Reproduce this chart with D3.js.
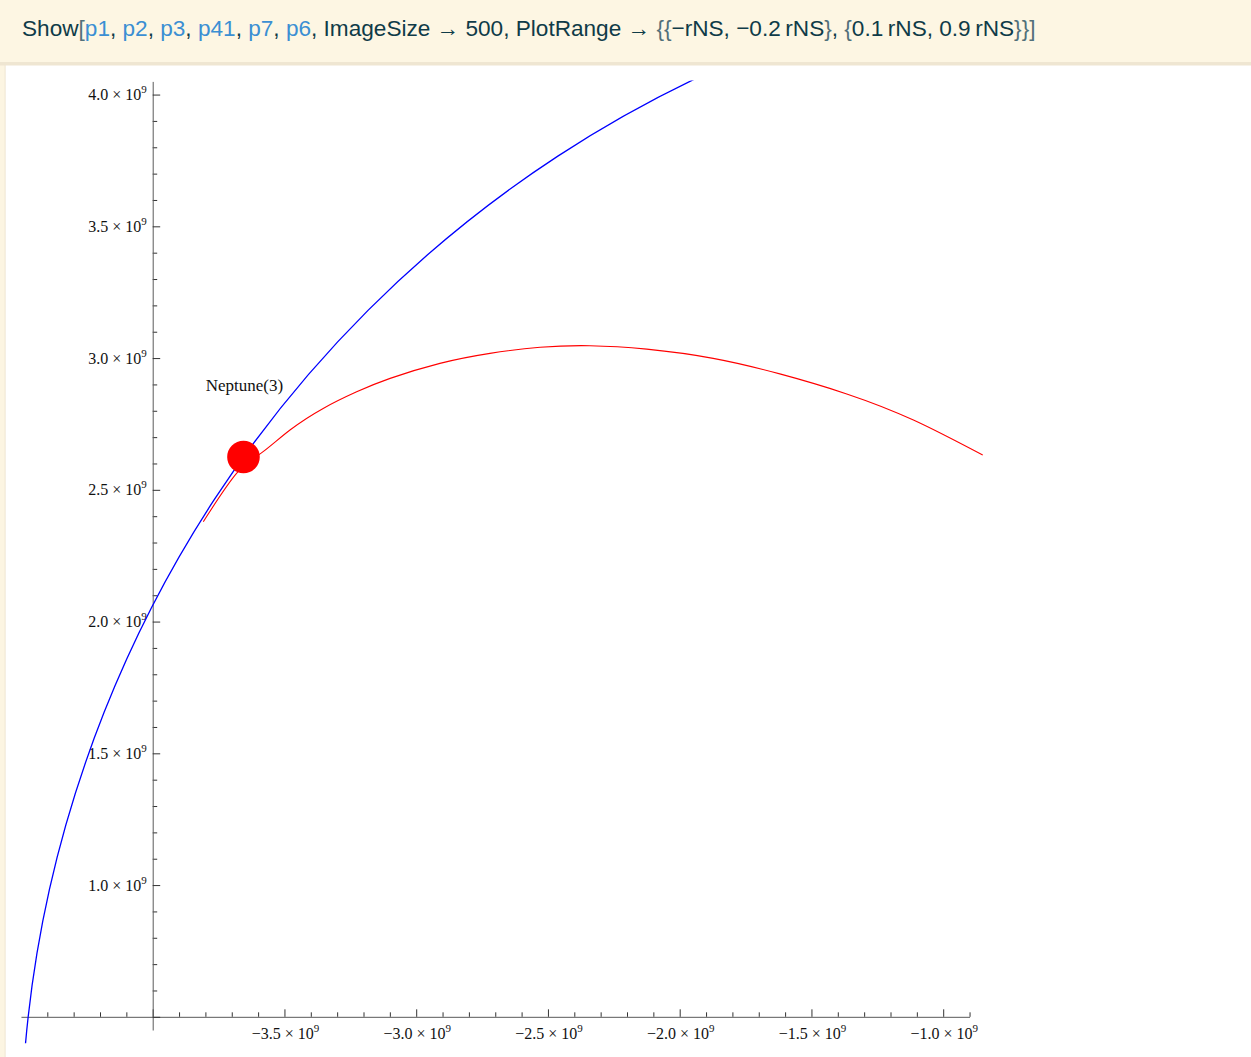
<!DOCTYPE html>
<html>
<head>
<meta charset="utf-8">
<script src="https://cdn.jsdelivr.net/npm/d3@7"></script>
<style>
  html, body { margin: 0; padding: 0; background: #ffffff; }
  svg { display: block; }
</style>
</head>
<body>
<script>
// ---- Plot range: {{-rNS, -0.2 rNS}, {0.1 rNS, 0.9 rNS}} (km) ----
const rNS = 4.5e9;
const xRange = [-rNS, -0.2 * rNS];
const yRange = [0.1 * rNS, 0.9 * rNS];
const axesOrigin = [-4.0e9, 0.5e9];

// Neptune's orbit (circle about the Sun)
const neptuneOrbitRadius = 4.5e9;

// Transfer trajectory samples (x, y in km)
const transferX = [-3.808e9, -3.681e9, -3.586e9, -3.479e9, -3.353e9, -3.226e9, -3.099e9, -2.910e9,
                   -2.720e9, -2.530e9, -2.341e9, -2.125e9, -1.873e9, -1.620e9, -1.366e9, -1.113e9, -0.850e9];
const transferY = [2.379e9, 2.563e9, 2.641e9, 2.727e9, 2.809e9, 2.872e9, 2.923e9, 2.980e9,
                   3.018e9, 3.041e9, 3.047e9, 3.034e9, 2.999e9, 2.940e9, 2.864e9, 2.765e9, 2.632e9];

// Neptune at encounter and its label
const neptunePos = [-3.6555e9, 2.6246e9];
const neptuneLabel = "Neptune(3)";
const neptuneLabelPos = [-3.652e9, 2.898e9];

// Ticks
const xMajorTicks = [-4.0e9, -3.5e9, -3.0e9, -2.5e9, -2.0e9, -1.5e9, -1.0e9];
const xTickLabels = ["", "\u22123.5", "\u22123.0", "\u22122.5", "\u22122.0", "\u22121.5", "\u22121.0"];
const xMinorTicks = [-4.4e9, -4.3e9, -4.2e9, -4.1e9, -3.9e9, -3.8e9, -3.7e9, -3.6e9, -3.4e9, -3.3e9, -3.2e9, -3.1e9,
                     -2.9e9, -2.8e9, -2.7e9, -2.6e9, -2.4e9, -2.3e9, -2.2e9, -2.1e9, -1.9e9, -1.8e9, -1.7e9, -1.6e9,
                     -1.4e9, -1.3e9, -1.2e9, -1.1e9, -0.9e9];
const yMajorTicks = [0.5e9, 1.0e9, 1.5e9, 2.0e9, 2.5e9, 3.0e9, 3.5e9, 4.0e9];
const yTickLabels = ["", "1.0", "1.5", "2.0", "2.5", "3.0", "3.5", "4.0"];
const yMinorTicks = [0.6e9, 0.7e9, 0.8e9, 0.9e9, 1.1e9, 1.2e9, 1.3e9, 1.4e9, 1.6e9, 1.7e9, 1.8e9, 1.9e9,
                     2.1e9, 2.2e9, 2.3e9, 2.4e9, 2.6e9, 2.7e9, 2.8e9, 2.9e9, 3.1e9, 3.2e9, 3.3e9, 3.4e9,
                     3.6e9, 3.7e9, 3.8e9, 3.9e9];
const tickExponent = "9";

// Input line of the notebook cell
const inputSegments = [
  ["Show", "txt"], ["[", "br"], ["p1", "sym"], [", ", "txt"], ["p2", "sym"], [", ", "txt"], ["p3", "sym"],
  [", ", "txt"], ["p41", "sym"], [", ", "txt"], ["p7", "sym"], [", ", "txt"], ["p6", "sym"],
  [", ImageSize \u2192 500, PlotRange \u2192 ", "txt"], ["{{", "br"], ["\u2212rNS, \u22120.2\u2009rNS", "txt"],
  ["}", "br"], [", ", "txt"], ["{", "br"], ["0.1\u2009rNS, 0.9\u2009rNS", "txt"], ["}}", "br"], ["]", "br"]
];

const W = 1251, H = 1057;
const svg = d3.select("body").append("svg").attr("width", W).attr("height", H);

// ---- notebook cell frame ----
svg.append("rect").attr("x", 0).attr("y", 0).attr("width", 5).attr("height", H).attr("fill", "#fcf5e2");
svg.append("rect").attr("x", 4.5).attr("y", 0).attr("width", 1.2).attr("height", H).attr("fill", "#f1e9d6");
svg.append("rect").attr("x", 0).attr("y", 0).attr("width", W).attr("height", 62).attr("fill", "#fdf6e3");
svg.append("rect").attr("x", 0).attr("y", 62).attr("width", W).attr("height", 3.5).attr("fill", "#efe6d2");

const colors = { txt: "#0f3b48", sym: "#3b8fd3", br: "#52707a" };
const inputLine = svg.append("text")
  .attr("x", 22).attr("y", 36)
  .attr("font-family", "'Liberation Sans', Arial, sans-serif")
  .attr("font-size", 22.6);
inputLine.selectAll("tspan").data(inputSegments).join("tspan")
  .attr("fill", d => colors[d[1]])
  .text(d => d[0]);

// ---- scales ----
const sx = d3.scaleLinear().domain(xRange).range([20.95, 969.55]);
const sy = d3.scaleLinear().domain(yRange).range([1030, 81.4]);
const x0 = sx(axesOrigin[0]), y0 = sy(axesOrigin[1]);

const defs = svg.append("defs");
defs.append("clipPath").attr("id", "plotClip").append("rect")
  .attr("x", sx(xRange[0]) - 13).attr("y", sy(yRange[1]) - 0.8)
  .attr("width", sx(xRange[1]) - sx(xRange[0]) + 30)
  .attr("height", sy(yRange[0]) - sy(yRange[1]) + 14);

// ---- axes ----
const axisFont = "'Liberation Serif', 'Times New Roman', serif";

const gx = svg.append("g").attr("transform", `translate(0,${y0})`);
gx.call(d3.axisBottom(sx).tickValues(xMinorTicks).tickSizeInner(-4.5).tickSizeOuter(0).tickFormat(""));
gx.call(g => g.select(".domain").remove());
const gx2 = svg.append("g").attr("transform", `translate(0,${y0})`);
gx2.call(d3.axisBottom(sx).tickValues(xMajorTicks).tickSizeInner(-7.5).tickSizeOuter(0).tickFormat(""));

const gy = svg.append("g").attr("transform", `translate(${x0},0)`);
gy.call(d3.axisLeft(sy).tickValues(yMinorTicks).tickSizeInner(-4.5).tickSizeOuter(0).tickFormat(""));
gy.call(g => g.select(".domain").remove());
const gy2 = svg.append("g").attr("transform", `translate(${x0},0)`);
gy2.call(d3.axisLeft(sy).tickValues(yMajorTicks).tickSizeInner(-7.5).tickSizeOuter(0).tickFormat(""));

svg.selectAll(".domain").attr("stroke", "#5a5a5a").attr("stroke-width", 1);
svg.selectAll(".tick line").attr("stroke", "#333").attr("stroke-width", 1);

function sciLabel(sel) {
  sel.each(function (d) {
    const t = d3.select(this);
    if (!d.label) return;
    t.append("tspan").text(d.label + " \u00d7 10");
    t.append("tspan").attr("font-size", 11).attr("dy", -7).text(tickExponent);
  });
}

svg.append("g").selectAll("text")
  .data(xMajorTicks.map((v, i) => ({ v, label: xTickLabels[i] })))
  .join("text")
  .attr("x", d => sx(d.v) + 1)
  .attr("y", y0 + 21.7)
  .attr("text-anchor", "middle")
  .attr("font-family", axisFont).attr("font-size", 16).attr("fill", "#111")
  .call(sciLabel);

svg.append("g").selectAll("text")
  .data(yMajorTicks.map((v, i) => ({ v, label: yTickLabels[i] })))
  .join("text")
  .attr("x", x0 - 6)
  .attr("y", d => sy(d.v) + 5.5)
  .attr("text-anchor", "end")
  .attr("font-family", axisFont).attr("font-size", 16).attr("fill", "#111")
  .call(sciLabel);

// ---- curves ----
const plot = svg.append("g").attr("clip-path", "url(#plotClip)");

plot.append("circle")
  .attr("cx", sx(0)).attr("cy", sy(0))
  .attr("r", sx(neptuneOrbitRadius) - sx(0))
  .attr("fill", "none").attr("stroke", "#0000ff").attr("stroke-width", 1.3);

const transfer = transferX.map((x, i) => [x, transferY[i]]);
plot.append("path")
  .datum(transfer)
  .attr("d", d3.line().x(d => sx(d[0])).y(d => sy(d[1])).curve(d3.curveNatural))
  .attr("fill", "none").attr("stroke", "#ff0000").attr("stroke-width", 1.1);

plot.append("circle")
  .attr("cx", sx(neptunePos[0])).attr("cy", sy(neptunePos[1]))
  .attr("r", 16.3).attr("fill", "#ff0000");

svg.append("text")
  .attr("x", sx(neptuneLabelPos[0])).attr("y", sy(neptuneLabelPos[1]))
  .attr("dy", "0.35em")
  .attr("text-anchor", "middle")
  .attr("font-family", axisFont).attr("font-size", 17).attr("fill", "#111")
  .text(neptuneLabel);
</script>
</body>
</html>
